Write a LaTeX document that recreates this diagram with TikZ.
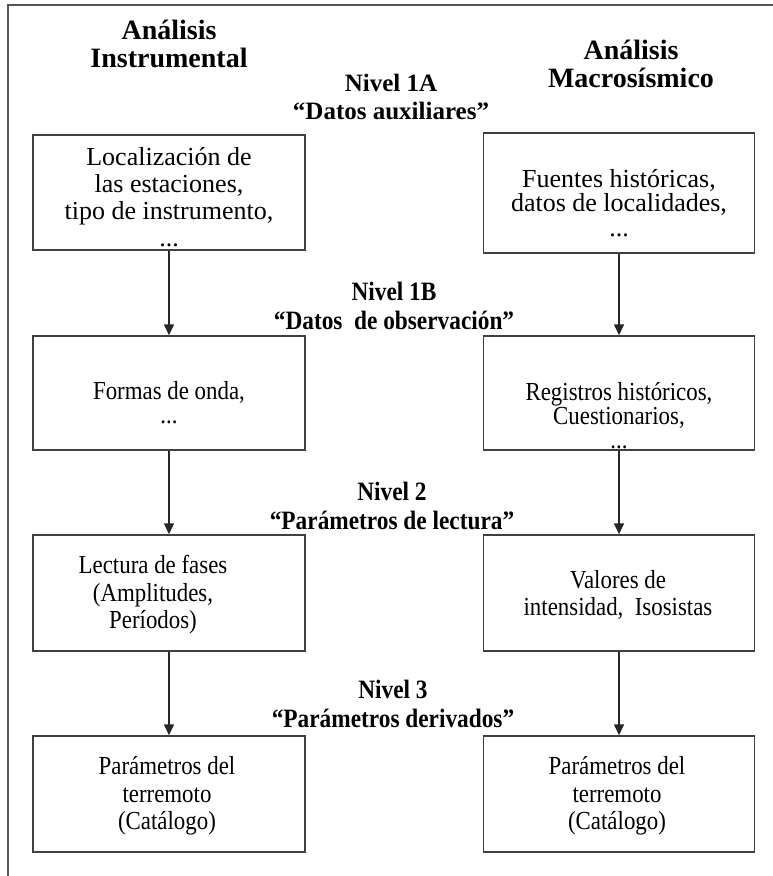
\documentclass[tikz,border=0pt]{standalone}
\usepackage{fontspec}
\setmainfont{Liberation Serif}
\newfontfamily\condserif[FakeStretch=0.88]{Liberation Serif}
\usetikzlibrary{arrows.meta}
\definecolor{framegray}{HTML}{555555}
\definecolor{boxgray}{HTML}{404040}
\tikzset{
  stepbox/.style={draw=boxgray, line width=1.4pt, minimum width=272pt, minimum height=115pt, inner sep=0pt},
  boxtexta/.style={align=center, font=\fontsize{26}{27}\selectfont},
  boxtextc/.style={align=center, font=\condserif\fontsize{26}{27.5}\selectfont},
  coltitle/.style={align=center, font=\fontsize{28}{28}\selectfont\bfseries},
  leveltext/.style={align=center, font=\fontsize{25}{28.5}\selectfont\bfseries},
  levelcond/.style={align=center, font=\condserif\fontsize{26.5}{29}\selectfont\bfseries},
  flow/.style={-{Triangle[length=11pt,width=10pt]}, line width=1.4pt, draw=black!85, fill=black!85}
}
\begin{document}
\begin{tikzpicture}[x=1pt,y=-1pt]
\useasboundingbox (0,0) rectangle (772,876);
% outer frame (only top and left edges visible)
\draw[framegray, line width=2pt] (8,878) -- (8,5) -- (774,5);

% column titles
\node[coltitle] (t1) at (169,44) {Análisis\\Instrumental};
\node[coltitle] (t2) at (631,64) {Análisis\\Macrosísmico};

% level labels
\node[leveltext] (n1) at (391,97) {Nivel 1A\\“Datos auxiliares”};
\node[levelcond] (n2) at (394,306) {Nivel 1B\\“Datos\ \ de observación”};
\node[levelcond] (n3) at (392,506) {Nivel 2\\“Parámetros de lectura”};
\node[levelcond] (n4) at (393,704) {Nivel 3\\“Parámetros derivados”};

% boxes
\node[stepbox] (L1) at (169,192.5) {};
\node[stepbox, minimum width=271pt, minimum height=120pt] (R1) at (619,193) {};
\node[stepbox, minimum height=114pt] (L2) at (169,393) {};
\node[stepbox, minimum width=271pt, minimum height=114pt] (R2) at (619,393) {};
\node[stepbox, minimum height=116pt] (L3) at (169,593) {};
\node[stepbox, minimum width=271pt, minimum height=116pt] (R3) at (619,593) {};
\node[stepbox, minimum height=116pt] (L4) at (169,794) {};
\node[stepbox, minimum width=271pt, minimum height=116pt] (R4) at (619,794) {};

% box texts
\node[boxtexta] (L1t) at (169,197) {Localización de\\las estaciones,\\tipo de instrumento,\\...};
\node[boxtexta, font=\fontsize{26}{24.5}\selectfont] (R1t) at (619,203) {Fuentes históricas,\\datos de localidades,\\...};
\node[boxtextc, font=\condserif\fontsize{26}{24}\selectfont] (L2t) at (169,403) {Formas de onda,\\...};
\node[boxtextc, font=\condserif\fontsize{26}{24}\selectfont] (R2t) at (619,416) {Registros históricos,\\Cuestionarios,\\...};
\node[boxtextc] (L3t) at (153,595) {Lectura de fases\\(Amplitudes,\\Períodos)};
\node[boxtextc] (R3t) at (618,595) {Valores de\\intensidad,\ \ Isosistas};
\node[boxtextc] (L4t) at (167,796) {Parámetros del\\terremoto\\(Catálogo)};
\node[boxtextc] (R4t) at (617,796) {Parámetros del\\terremoto\\(Catálogo)};

% connectors
\draw[flow] (L1.south) -- (L2.north);
\draw[flow] (L2.south) -- (L3.north);
\draw[flow] (L3.south) -- (L4.north);
\draw[flow] (R1.south) -- (R2.north);
\draw[flow] (R2.south) -- (R3.north);
\draw[flow] (R3.south) -- (R4.north);
\end{tikzpicture}
\end{document}
